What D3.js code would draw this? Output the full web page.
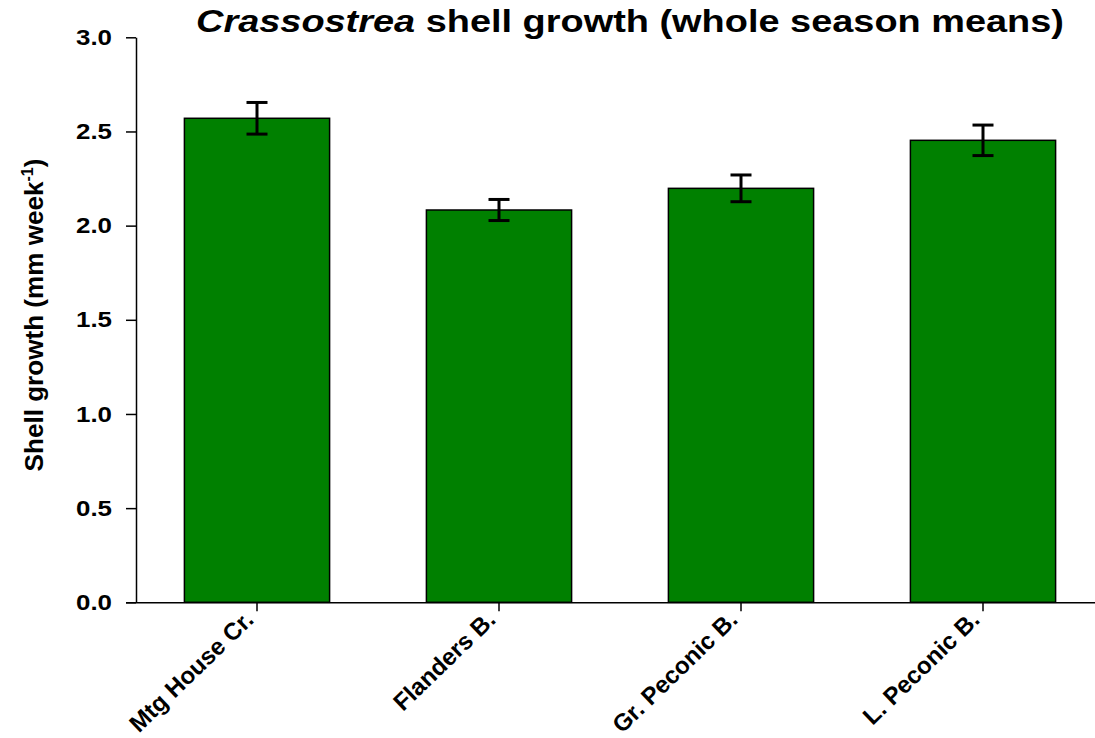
<!DOCTYPE html>
<meta charset="utf-8">
<style>
body { margin: 0; background: #fff; }
text { font-family: "Liberation Sans", Arial, sans-serif; font-weight: bold; fill: #000; }
.bar { fill: #008000; stroke: #000; stroke-width: 1.5px; }
.err { stroke: #000; stroke-width: 3px; fill: none; }
.axis path, .axis line { stroke: #000; stroke-width: 1.5px; }
</style>
<body>
<script src="https://d3js.org/d3.v7.min.js"></script>
<script>
// data
var sites = ["Mtg House Cr.", "Flanders B.", "Gr. Peconic B.", "L. Peconic B."];
var growth = [2.57, 2.083, 2.198, 2.453];
var stderr = [0.084, 0.056, 0.071, 0.081];
var yTicks = [0.0, 0.5, 1.0, 1.5, 2.0, 2.5, 3.0];

var margin = {top: 37.3, left: 136},
    width = 968,
    height = 565;

var svg = d3.select("body").append("svg")
    .attr("width", 1095)
    .attr("height", 738)
  .append("g")
    .attr("transform", "translate(" + margin.left + "," + margin.top + ")");

var x = d3.scaleBand().domain(sites).range([0, width]).paddingInner(0.4).paddingOuter(0.2);
var y = d3.scaleLinear().domain([0, 3]).range([height, 0]);

var data = sites.map(function(s, i) { return {site: s, v: growth[i], se: stderr[i]}; });

// bars
svg.selectAll(".bar")
    .data(data)
  .enter().append("rect")
    .attr("class", "bar")
    .attr("x", function(d) { return x(d.site); })
    .attr("width", x.bandwidth())
    .attr("y", function(d) { return y(d.v); })
    .attr("height", function(d) { return height - y(d.v); });

// error bars
var eb = svg.selectAll(".errg")
    .data(data)
  .enter().append("g")
    .attr("class", "err")
    .attr("transform", function(d) { return "translate(" + (x(d.site) + x.bandwidth() / 2) + ",0)"; });

eb.append("line")
    .attr("y1", function(d) { return y(d.v + d.se); })
    .attr("y2", function(d) { return y(d.v - d.se); });
eb.append("line")
    .attr("x1", -10.5).attr("x2", 10.5)
    .attr("y1", function(d) { return y(d.v + d.se); })
    .attr("y2", function(d) { return y(d.v + d.se); });
eb.append("line")
    .attr("x1", -10.5).attr("x2", 10.5)
    .attr("y1", function(d) { return y(d.v - d.se); })
    .attr("y2", function(d) { return y(d.v - d.se); });

// x axis
var xAxis = svg.append("g")
    .attr("class", "axis")
    .attr("transform", "translate(0," + height + ")")
    .call(d3.axisBottom(x).tickSize(9).tickSizeOuter(0));
xAxis.select(".domain").attr("d", "M-10,0.5H" + width);
xAxis.selectAll("text")
    .style("font-size", "24px")
    .attr("text-anchor", "end")
    .attr("dy", null)
    .attr("transform", "translate(-2,19) rotate(-44)")
    .attr("y", 0)
    .attr("x", 0);

// y axis
var yAxis = svg.append("g")
    .attr("class", "axis")
    .call(d3.axisLeft(y).tickValues(yTicks).tickFormat(d3.format(".1f")).tickSize(10).tickSizeOuter(0));
yAxis.selectAll("text")
    .style("font-size", "22px")
    .attr("x", -24)
    .attr("textLength", 36)
    .attr("lengthAdjust", "spacingAndGlyphs");

// y label
var yl = svg.append("text")
    .attr("transform", "translate(-93," + (315 - margin.top) + ") rotate(-90)")
    .attr("text-anchor", "middle")
    .style("font-size", "26px");
yl.append("tspan")
    .attr("textLength", 290)
    .attr("lengthAdjust", "spacingAndGlyphs")
    .text("Shell growth (mm week");
yl.append("tspan").attr("dy", -10).style("font-size", "16px").text("-1");
yl.append("tspan").attr("dy", 10).text(")");

// title
var title = svg.append("text")
    .attr("x", 494)
    .attr("y", -5)
    .attr("text-anchor", "middle")
    .attr("textLength", 868)
    .attr("lengthAdjust", "spacingAndGlyphs")
    .style("font-size", "32px");
title.append("tspan").style("font-style", "italic").text("Crassostrea");
title.append("tspan").text(" shell growth (whole season means)");
</script>
</body>
